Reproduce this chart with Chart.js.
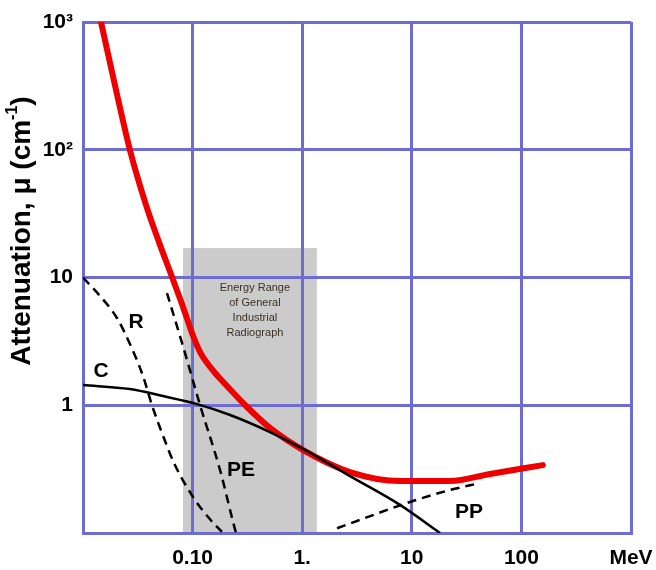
<!DOCTYPE html>
<html>
<head>
<meta charset="utf-8">
<script src="https://cdn.jsdelivr.net/npm/chart.js@4.4.1/dist/chart.umd.min.js"></script>
<style>
  body { margin: 0; background: #fff; }
  #wrap { width: 656px; height: 570px; }
</style>
</head>
<body>
<div id="wrap"><canvas id="muChart" width="656" height="570"></canvas></div>
<script>
// axis ticks
const xTicks = [0.01, 0.1, 1, 10, 100, 1000];
const xTickLabels = ['', '0.10', '1.', '10', '100', 'MeV'];
const yTicks = [0.1, 1, 10, 100, 1000];
const yTickLabels = ['', '1', '10', '10²', '10³'];

// total attenuation (red)
const totalE  = [0.0146, 0.02, 0.0268, 0.0376, 0.0504, 0.0649, 0.0818, 0.0987, 0.117, 0.15, 0.21, 0.314, 0.508, 1.02, 2.73, 7.8, 22.3, 51.7, 157];
const totalMu = [1000, 294, 99.5, 36.9, 18.0, 10.1, 5.88, 3.68, 2.61, 1.92, 1.39, 0.969, 0.664, 0.446, 0.3, 0.255, 0.255, 0.29, 0.34];
// Compton (C)
const comptonE  = [0.01, 0.0268, 0.0537, 0.11, 0.22, 0.508, 1.02, 2.73, 7.8, 18.1];
const comptonMu = [1.44, 1.34, 1.18, 1.02, 0.839, 0.617, 0.455, 0.279, 0.166, 0.1];
// Rayleigh (R)
const rayleighE  = [0.01, 0.0143, 0.0204, 0.0268, 0.0353, 0.0426, 0.0526, 0.0677, 0.101, 0.141, 0.185];
const rayleighMu = [10, 7.17, 4.82, 3.02, 1.69, 1.0, 0.606, 0.353, 0.191, 0.131, 0.102];
// photoelectric (PE)
const photoE  = [0.0584, 0.0853, 0.117, 0.178, 0.234, 0.249];
const photoMu = [7.56, 2.56, 1.0, 0.311, 0.122, 0.1];
// pair production (PP)
const pairE  = [2.08, 10.25, 22.3, 41.9];
const pairMu = [0.109, 0.178, 0.217, 0.246];

// shaded energy range of general industrial radiography
const rangeE = [0.0818, 1.36];
const rangeTop = 17;
const rangeText = ['Energy Range', 'of General', 'Industrial', 'Radiograph'];

// curve labels
const curveLabels = [
  { text: 'R', e: 0.0305, mu: 4.48 },
  { text: 'C', e: 0.0146, mu: 1.85 },
  { text: 'PE', e: 0.277, mu: 0.311 },
  { text: 'PP', e: 33.2, mu: 0.146 }
];

const toPts = (xs, ys) => xs.map((v, i) => ({ x: v, y: ys[i] }));
const gridBlue = '#6c6cd2';
const boldFont = '"Liberation Sans", Arial, sans-serif';

const decorPlugin = {
  id: 'decor',
  beforeDraw(chart) {
    const { ctx, chartArea, scales: { x, y } } = chart;
    const l = x.getPixelForValue(rangeE[0]);
    const r = x.getPixelForValue(rangeE[1]);
    const t = y.getPixelForValue(rangeTop);
    ctx.save();
    ctx.fillStyle = '#cbcbcb';
    ctx.fillRect(l, t, r - l, chartArea.bottom - t);
    ctx.restore();
  },
  afterDraw(chart) {
    const { ctx, scales: { x, y } } = chart;
    ctx.save();
    // text in the shaded box
    ctx.fillStyle = '#3a3020';
    ctx.font = '11px ' + boldFont;
    ctx.textAlign = 'center';
    ctx.textBaseline = 'middle';
    const cx = (x.getPixelForValue(rangeE[0]) + x.getPixelForValue(rangeE[1])) / 2 + 5;
    const ty = y.getPixelForValue(rangeTop) + 40;
    rangeText.forEach((s, i) => ctx.fillText(s, cx, ty + i * 15));

    // curve labels
    ctx.fillStyle = '#000';
    ctx.font = 'bold 21px ' + boldFont;
    curveLabels.forEach(c => ctx.fillText(c.text, x.getPixelForValue(c.e), y.getPixelForValue(c.mu)));

    // y axis title with superscript
    ctx.translate(22, 231);
    ctx.rotate(-Math.PI / 2);
    const main = 'Attenuation, μ (cm';
    const sup = '-1';
    const end = ')';
    ctx.font = 'bold 28px ' + boldFont;
    const wMain = ctx.measureText(main).width;
    const wEnd = ctx.measureText(end).width;
    ctx.font = 'bold 16px ' + boldFont;
    const wSup = ctx.measureText(sup).width;
    let px = -(wMain + wSup + wEnd) / 2;
    ctx.textAlign = 'left';
    ctx.font = 'bold 28px ' + boldFont;
    ctx.fillText(main, px, 0);
    px += wMain;
    ctx.font = 'bold 16px ' + boldFont;
    ctx.fillText(sup, px, -9);
    px += wSup;
    ctx.font = 'bold 28px ' + boldFont;
    ctx.fillText(end, px, 0);
    ctx.restore();
  }
};

const dashed = (data) => ({
  data, borderColor: '#000', borderWidth: 2.5, borderDash: [9, 6],
  pointRadius: 0, showLine: true, cubicInterpolationMode: 'monotone', fill: false
});

new Chart(document.getElementById('muChart').getContext('2d'), {
  type: 'scatter',
  data: {
    datasets: [
      { label: 'C', data: toPts(comptonE, comptonMu), borderColor: '#000', borderWidth: 2.5,
        pointRadius: 0, showLine: true, cubicInterpolationMode: 'monotone' },
      Object.assign({ label: 'R' }, dashed(toPts(rayleighE, rayleighMu))),
      Object.assign({ label: 'PE' }, dashed(toPts(photoE, photoMu))),
      Object.assign({ label: 'PP' }, dashed(toPts(pairE, pairMu))),
      { label: 'Total', data: toPts(totalE, totalMu), borderColor: '#ee0000', borderWidth: 6,
        pointRadius: 0, showLine: true, cubicInterpolationMode: 'monotone', borderCapStyle: 'round' }
    ]
  },
  options: {
    responsive: false,
    animation: false,
    layout: { padding: { left: 0, top: 22, right: 25, bottom: 0 } },
    plugins: { legend: { display: false }, tooltip: { enabled: false } },
    scales: {
      x: {
        type: 'logarithmic',
        min: 0.01,
        max: 1000,
        afterBuildTicks: (scale) => { scale.ticks = xTicks.map(v => ({ value: v })); },
        afterFit: (scale) => { scale.height = 37; scale.paddingRight = 0; scale.paddingLeft = 0; },
        grid: { color: gridBlue, lineWidth: 3, drawTicks: false },
        border: { color: gridBlue, width: 3 },
        ticks: {
          padding: 13,
          color: '#000',
          font: { family: boldFont, size: 21, weight: 'bold' },
          maxRotation: 0,
          autoSkip: false,
          callback: (v) => xTickLabels[xTicks.indexOf(v)] ?? ''
        }
      },
      y: {
        type: 'logarithmic',
        min: 0.1,
        max: 1000,
        afterBuildTicks: (scale) => { scale.ticks = yTicks.map(v => ({ value: v })); },
        afterFit: (scale) => { scale.width = 83; scale.paddingTop = 0; scale.paddingBottom = 0; },
        grid: { color: gridBlue, lineWidth: 3, drawTicks: false },
        border: { color: gridBlue, width: 3 },
        ticks: {
          padding: 10,
          color: '#000',
          font: { family: boldFont, size: 21, weight: 'bold' },
          autoSkip: false,
          callback: (v) => yTickLabels[yTicks.indexOf(v)] ?? ''
        }
      }
    }
  },
  plugins: [decorPlugin]
});
</script>
</body>
</html>
